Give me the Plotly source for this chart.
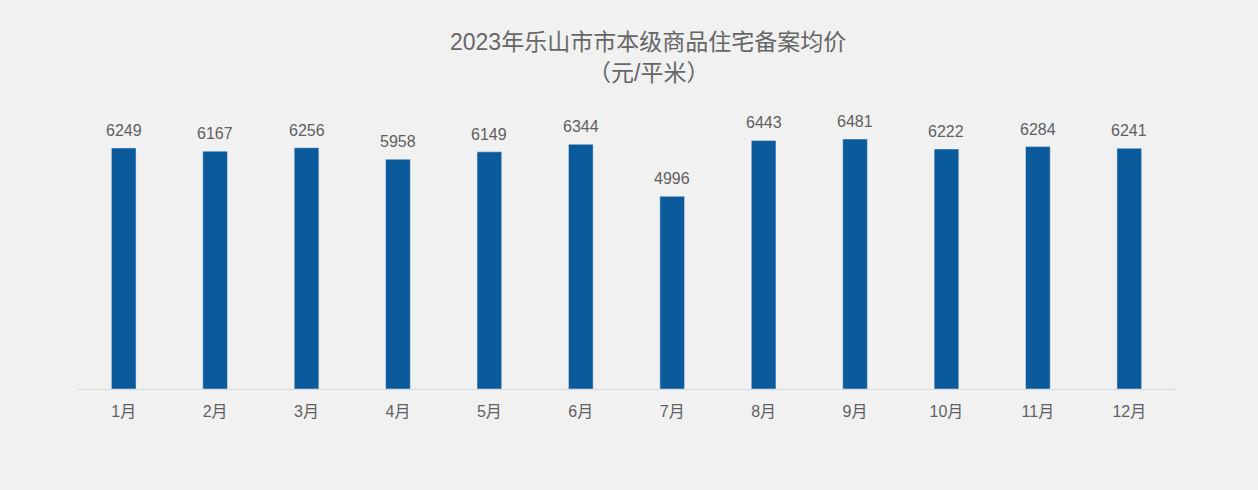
import plotly.graph_objects as go

months = ["1月", "2月", "3月", "4月", "5月", "6月", "7月", "8月", "9月", "10月", "11月", "12月"]
prices = [6249, 6167, 6256, 5958, 6149, 6344, 4996, 6443, 6481, 6222, 6284, 6241]
title_line1 = "2023年乐山市市本级商品住宅备案均价"
title_line2 = "（元/平米）"

font_family = "Liberation Sans, Noto Sans CJK SC, Arial, sans-serif"

fig = go.Figure(go.Bar(
    x=months, y=prices,
    marker_color="#0b5a9c",
    cliponaxis=False,
))

for m, v in zip(months, prices):
    fig.add_annotation(x=m, y=v, text=str(v), showarrow=False,
                       yanchor="bottom", yshift=7,
                       font=dict(size=16, color="#5f5f5f", family=font_family))

fig.add_annotation(text=title_line1, xref="paper", yref="paper", x=0.52, y=1.0,
                   yshift=92, showarrow=False,
                   font=dict(size=23, color="#666666", family=font_family))
fig.add_annotation(text=title_line2, xref="paper", yref="paper", x=0.52, y=1.0,
                   yshift=61, showarrow=False,
                   font=dict(size=23, color="#666666", family=font_family))

fig.update_layout(
    width=1258, height=490,
    paper_bgcolor="#f1f1f1", plot_bgcolor="#f1f1f1",
    margin=dict(l=78, r=83, t=119, b=101),
    bargap=0.73,
    showlegend=False,
    xaxis=dict(
        showline=True, linecolor="#d9d9d9", linewidth=1,
        ticks="", ticklabelstandoff=8,
        tickfont=dict(size=16, color="#5f5f5f", family=font_family),
        showgrid=False,
    ),
    yaxis=dict(
        range=[0, 7000], visible=False, showgrid=False,
    ),
)

fig.write_html("out.html")
